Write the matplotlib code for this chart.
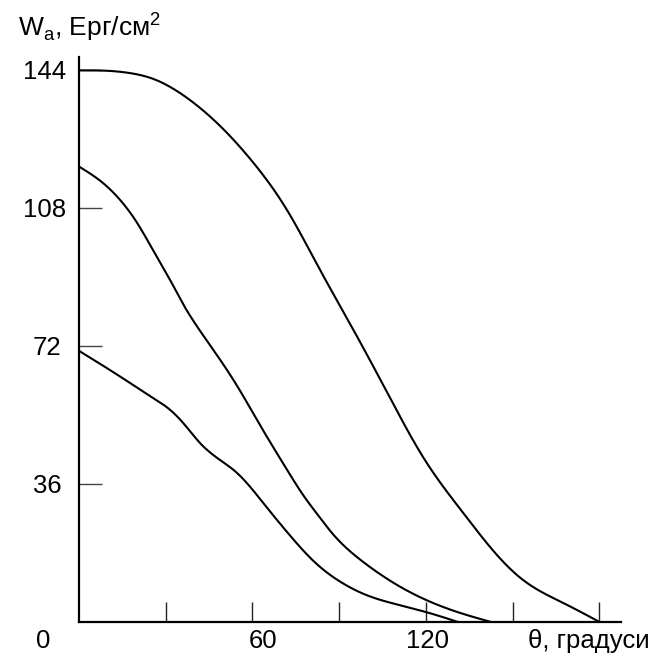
import numpy as np
import matplotlib
matplotlib.use("Agg")
import matplotlib.pyplot as plt

plt.rcParams['font.family'] = ['Liberation Sans', 'DejaVu Sans']

# angle (degrees) and W_a values, one list per curve
theta_top = [0, 9.7, 17.6, 25.6, 37.4, 48.8, 60.2, 72.0, 83.4, 93.8, 106.5, 119.0,
             132.9, 144.6, 153.6, 167.5, 179.9]
w_top = [143.9, 143.8, 143.2, 141.7, 136.7, 129.4, 119.9, 107.4, 91.8, 77.7, 60.0, 43.0,
         28.4, 17.4, 10.9, 4.9, 0.0]

theta_mid = [0, 8.3, 14.2, 20.1, 25.6, 31.5, 36.0, 39.4, 45.3, 51.2, 56.8, 61.6, 66.1,
             72.0, 77.5, 83.4, 86.9, 98.3, 110.0, 121.5, 131.8, 142.2]
w_mid = [118.8, 114.5, 110.1, 104.1, 97.0, 89.2, 82.9, 78.7, 72.2, 65.7, 58.9, 52.6, 46.9,
         39.6, 33.1, 27.1, 23.7, 15.6, 9.6, 5.2, 2.3, 0.0]

theta_low = [0, 7.3, 14.2, 24.6, 31.5, 36.0, 41.9, 48.8, 54.7, 59.2, 65.1, 70.2, 75.4,
             80.9, 86.9, 92.7, 98.3, 110.0, 121.5, 130.8]
w_low = [70.7, 67.3, 64.0, 58.9, 55.3, 51.9, 46.6, 42.2, 38.8, 35.2, 29.7, 25.0, 20.4,
         16.0, 12.2, 9.4, 7.3, 4.5, 2.2, 0.0]

y_ticks = [36, 72, 108, 144]
x_ticks = [30, 60, 90, 120, 150, 180]


def spline(x, y, n=500):
    # natural cubic spline, only to draw a smooth line through the read points
    x = np.asarray(x, float)
    y = np.asarray(y, float)
    N = len(x)
    h = np.diff(x)
    A = np.zeros((N, N))
    b = np.zeros(N)
    A[0, 0] = A[-1, -1] = 1
    for i in range(1, N - 1):
        A[i, i - 1] = h[i - 1]
        A[i, i] = 2 * (h[i - 1] + h[i])
        A[i, i + 1] = h[i]
        b[i] = 6 * ((y[i + 1] - y[i]) / h[i] - (y[i] - y[i - 1]) / h[i - 1])
    M = np.linalg.solve(A, b)
    xs = np.linspace(x[0], x[-1], n)
    k = np.clip(np.searchsorted(x, xs) - 1, 0, N - 2)
    t1 = x[k + 1] - xs
    t0 = xs - x[k]
    ys = (M[k] * t1**3 + M[k + 1] * t0**3) / (6 * h[k]) \
        + (y[k] / h[k] - M[k] * h[k] / 6) * t1 \
        + (y[k + 1] / h[k] - M[k + 1] * h[k] / 6) * t0
    return xs, ys


fig = plt.figure(figsize=(6.68, 6.64), dpi=100)
ax = fig.add_axes([0.1183, 0.0637, 0.8109, 0.8505])

for tx, wy in [(theta_top, w_top), (theta_mid, w_mid), (theta_low, w_low)]:
    xs, ys = spline(tx, wy)
    ax.plot(xs, ys, color='black', lw=1.5)

ax.set_xlim(0, 187.4)
ax.set_ylim(0, 147.4)
for s in ['top', 'right']:
    ax.spines[s].set_visible(False)
for s in ['left', 'bottom']:
    ax.spines[s].set_linewidth(1.6)

ax.set_yticks(y_ticks)
ax.set_yticklabels([str(v) for v in y_ticks], fontsize=18.5)
ax.tick_params(axis='y', direction='in', length=16.5, width=1.0, color='#444444', pad=9)
for lab, dx in zip(ax.get_yticklabels(), [-5, -5, 0, 0]):
    lab.set_transform(lab.get_transform() + matplotlib.transforms.ScaledTranslation(
        dx / 100, 0, fig.dpi_scale_trans))
ax.set_xticks(x_ticks)
ax.set_xticklabels([])
ax.tick_params(axis='x', direction='in', length=14.5, width=1.0, color='#222222')

# axis labels placed as in the reference
fig.text(43 / 668, 1 - 641 / 664, '0', fontsize=18.5, ha='center', va='center')
fig.text(263 / 668, 1 - 641 / 664, '60', fontsize=18.5, ha='center', va='center')
fig.text(427 / 668, 1 - 641 / 664, '120', fontsize=18.5, ha='center', va='center')
fig.text(528 / 668, 1 - 641 / 664, 'θ, градуси', fontsize=18.5, ha='left', va='center')
fig.text(18 / 668, 1 - 36 / 664, r'W$_\mathregular{a}$, Ерг/см$^\mathregular{2}$',
         fontsize=19, ha='left', va='baseline')

fig.savefig('out.png', dpi=100)
